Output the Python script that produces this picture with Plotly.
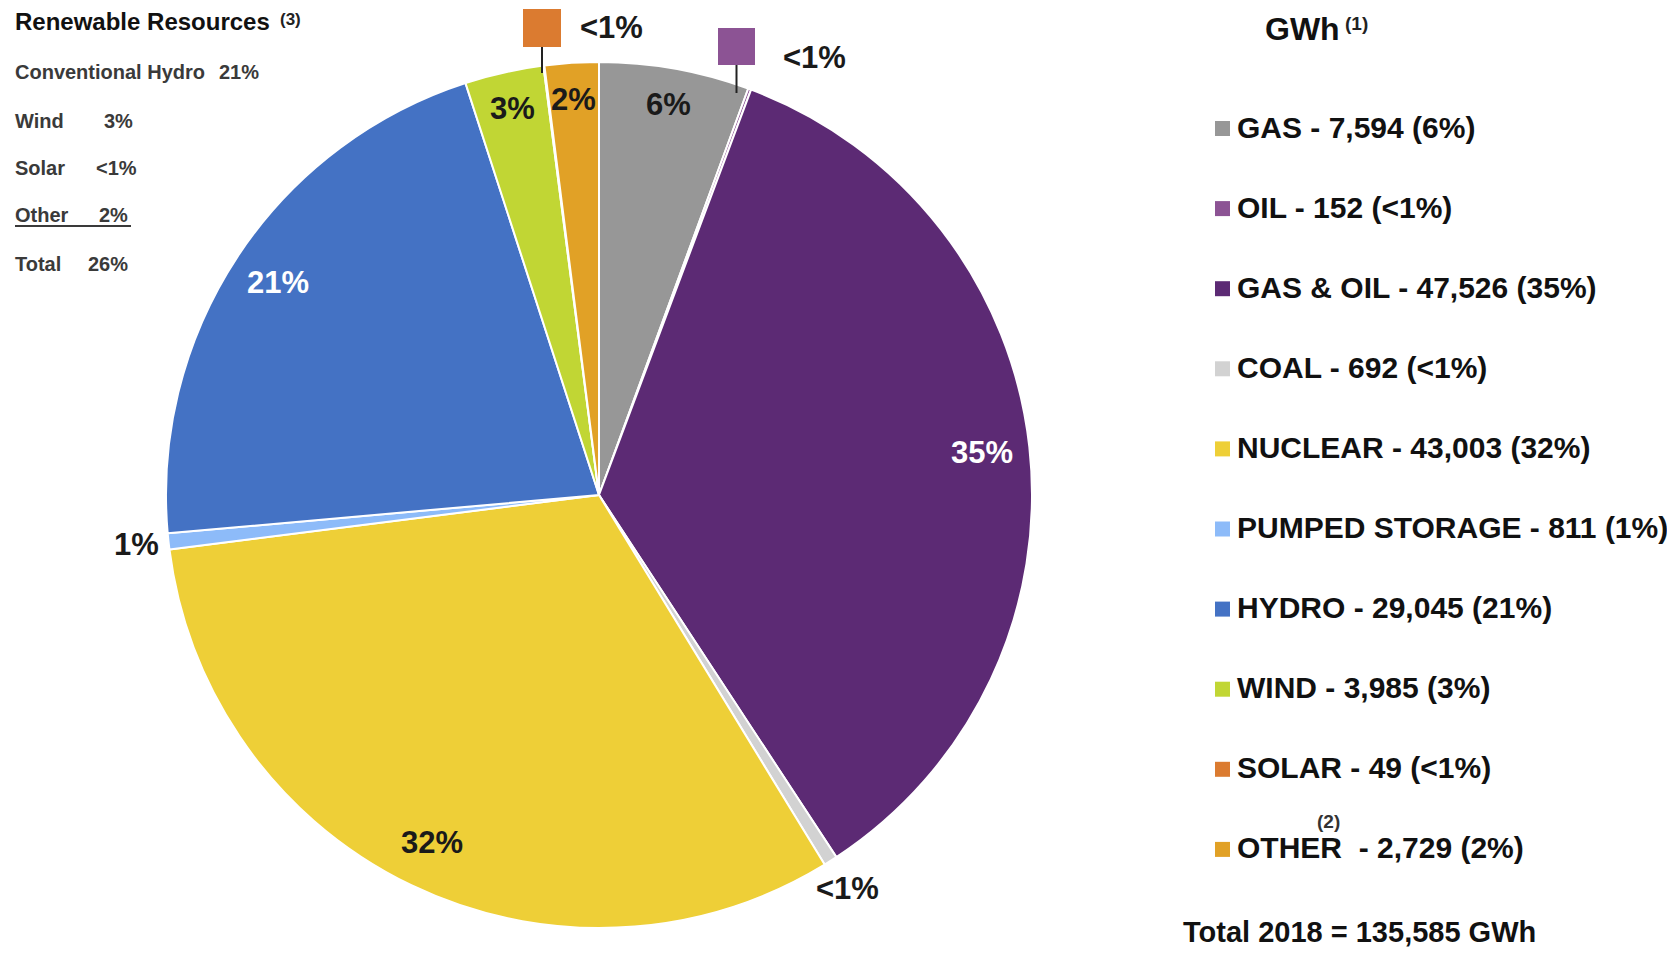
import math
import plotly.graph_objects as go

# ---------------- data ----------------
sources = ["GAS", "OIL", "GAS & OIL", "COAL", "NUCLEAR", "PUMPED STORAGE",
           "HYDRO", "WIND", "SOLAR", "OTHER"]
gwh = [7594, 152, 47526, 692, 43003, 811, 29045, 3985, 49, 2729]
pct_labels = ["6%", "<1%", "35%", "<1%", "32%", "1%", "21%", "3%", "<1%", "2%"]
colors = ["#979797", "#8C5394", "#5C2A74", "#D2D2D2", "#EECF37", "#8DBBF9",
          "#4472C4", "#C1D634", "#DB7B30", "#E1A126"]

renew_names = ["Conventional Hydro", "Wind", "Solar", "Other", "Total"]
renew_pcts = ["21%", "3%", "<1%", "2%", "26%"]
total_label = "Total 2018 = 135,585 GWh"

# ---------------- layout helpers ----------------
# page is 1675x960; the html body has an 8px margin, so the figure is 1659x944
OFF = 8
W, H = 1675 - 2 * OFF, 960 - 2 * OFF


def px(x):
    return (x - OFF) / W


def py(y):
    return 1 - (y - OFF) / H


CX, CY, R = 599, 495, 433
FONT = "Liberation Sans, Arial, sans-serif"

fig = go.Figure()
fig.add_trace(go.Pie(
    labels=sources, values=gwh, sort=False, direction="clockwise", rotation=0,
    marker=dict(colors=colors, line=dict(color="white", width=2)),
    textinfo="none", hoverinfo="label+value+percent", showlegend=False,
    domain=dict(x=[px(CX - R), px(CX + R)], y=[py(CY + R), py(CY - R)]),
))

annotations = []
shapes = []

# slice labels placed along each slice's mid-angle
total = sum(gwh)
cum = 0
inside_style = {"GAS & OIL": "white", "HYDRO": "white"}
outside = {"COAL", "PUMPED STORAGE"}
callouts = {"SOLAR", "OIL"}
for name, v, lab in zip(sources, gwh, pct_labels):
    mid = (cum + v / 2) / total * 2 * math.pi
    cum += v
    if name in callouts:
        continue
    frac = 1.075 if name in outside else (0.915 if v < 10000 else 0.89)
    x = CX + R * frac * math.sin(mid)
    y = CY - R * frac * math.cos(mid)
    annotations.append(dict(
        x=px(x), y=py(y), xref="paper", yref="paper", text=lab, showarrow=False,
        xanchor="center", yanchor="middle",
        font=dict(family=FONT, size=31, weight="bold",
                  color=inside_style.get(name, "#1a1a1a"))))

# callouts for the tiny SOLAR and OIL slices
callout_pos = {"SOLAR": (523, 9, 38, 73, 611, 28), "OIL": (718, 28, 37, 93, 814, 58)}
for name, (x0, y0, s, yl, tx, ty) in callout_pos.items():
    i = sources.index(name)
    shapes.append(dict(type="rect", xref="paper", yref="paper",
                       x0=px(x0), x1=px(x0 + s), y0=py(y0), y1=py(y0 + s),
                       fillcolor=colors[i], line=dict(width=0)))
    xc = x0 + s / 2
    shapes.append(dict(type="line", xref="paper", yref="paper",
                       x0=px(xc), x1=px(xc), y0=py(y0 + s), y1=py(yl),
                       line=dict(color="#222222", width=2)))
    annotations.append(dict(
        x=px(tx), y=py(ty), xref="paper", yref="paper", text=pct_labels[i],
        showarrow=False, xanchor="center", yanchor="middle",
        font=dict(family=FONT, size=31, weight="bold", color="#1a1a1a")))

# ---------------- legend (right) ----------------
annotations.append(dict(x=px(1263), y=py(29), xref="paper", yref="paper", text="GWh",
                        showarrow=False, xanchor="left", yanchor="middle",
                        font=dict(family=FONT, size=32, weight="bold", color="#111111")))
annotations.append(dict(x=px(1343), y=py(23), xref="paper", yref="paper", text="(1)",
                        showarrow=False, xanchor="left", yanchor="middle",
                        font=dict(family=FONT, size=19, weight="bold", color="#222222")))

row0, step = 127, 80.1
for k, (name, v, lab) in enumerate(zip(sources, gwh, pct_labels)):
    yc = row0 + k * step
    shapes.append(dict(type="rect", xref="paper", yref="paper",
                       x0=px(1215), x1=px(1230), y0=py(yc - 6), y1=py(yc + 9),
                       fillcolor=colors[k], line=dict(width=0)))
    nm = name + ("\u00a0" if name == "OTHER" else "")
    annotations.append(dict(
        x=px(1235), y=py(yc), xref="paper", yref="paper",
        text=f"{nm} - {v:,} ({lab})", showarrow=False, xanchor="left", yanchor="middle",
        font=dict(family=FONT, size=30, weight="bold", color="#111111")))
    if name == "OTHER":
        annotations.append(dict(
            x=px(1328), y=py(yc - 26), xref="paper", yref="paper", text="(2)",
            showarrow=False, xanchor="center", yanchor="middle",
            font=dict(family=FONT, size=19, weight="bold", color="#333333")))

annotations.append(dict(x=px(1181), y=py(932), xref="paper", yref="paper", text=total_label,
                        showarrow=False, xanchor="left", yanchor="middle",
                        font=dict(family=FONT, size=29, weight="bold", color="#111111")))

# ---------------- renewable block (left) ----------------
annotations.append(dict(x=px(13), y=py(22), xref="paper", yref="paper",
                        text="Renewable Resources", showarrow=False,
                        xanchor="left", yanchor="middle",
                        font=dict(family=FONT, size=24, weight="bold", color="#111111")))
annotations.append(dict(x=px(278), y=py(19), xref="paper", yref="paper", text="(3)",
                        showarrow=False, xanchor="left", yanchor="middle",
                        font=dict(family=FONT, size=17, weight="bold", color="#222222")))
renew_y = [72, 121, 168, 215, 264]
renew_vx = [217, 102, 94, 97, 86]
for nm, pc, yy, vx in zip(renew_names, renew_pcts, renew_y, renew_vx):
    annotations.append(dict(x=px(13), y=py(yy), xref="paper", yref="paper", text=nm,
                            showarrow=False, xanchor="left", yanchor="middle",
                            font=dict(family=FONT, size=20, weight="bold", color="#3a3a3a")))
    annotations.append(dict(x=px(vx), y=py(yy), xref="paper", yref="paper", text=pc,
                            showarrow=False, xanchor="left", yanchor="middle",
                            font=dict(family=FONT, size=20, weight="bold", color="#3a3a3a")))
shapes.append(dict(type="line", xref="paper", yref="paper",
                   x0=px(15), x1=px(131), y0=py(226), y1=py(226),
                   line=dict(color="#3a3a3a", width=2)))

fig.update_layout(
    width=W, height=H, margin=dict(l=0, r=0, t=0, b=0),
    paper_bgcolor="white", plot_bgcolor="white",
    annotations=annotations, shapes=shapes,
)
fig.write_html("out.html")
